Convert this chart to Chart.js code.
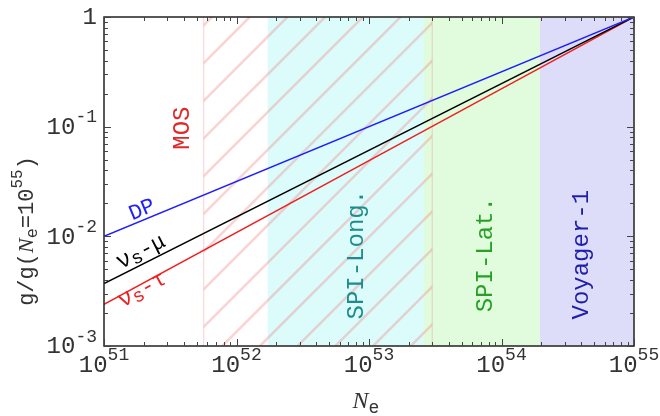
<!DOCTYPE html>
<html>
<head>
<meta charset="utf-8">
<script src="https://cdn.jsdelivr.net/npm/chart.js@4"></script>
<style>
  body { margin: 0; background: #fff; }
  #wrap { width: 660px; height: 416px; }
</style>
</head>
<body>
<div id="wrap"><canvas id="chart" width="660" height="416"></canvas></div>
<script>
// Coupling ratio g/g(Ne=1e55) vs number of electrons, log-log
const nEnds = [1e51, 1e55];
const dpVals = [0.01, 1];
const muVals = [0.0037, 1];
const tauVals = [0.0024, 1];

// Shaded exclusion regions (x ranges)
const regionNames = ['SPI-Long.', 'SPI-Lat.', 'Voyager-1'];
const regionStart = [1.72e52, 2.6e53, 1.95e54];
const regionEnd = [2.6e53, 1.95e54, 1e55];
const regionFill = ['rgb(220,252,252)', 'rgb(224,252,220)', 'rgb(221,221,250)'];
const regionText = ['rgb(30,140,140)', 'rgb(40,160,40)', 'rgb(30,30,170)'];
const regionLabelX = [8.0e52, 7.6e53, 4.06e54];

// hatched MOS region
const mosRange = [5.66e51, 3.0e53];

const xTickExp = [51, 52, 53, 54, 55];
const yTickExp = [-3, -2, -1, 0];

const MONO = '"Liberation Mono", "DejaVu Sans Mono", monospace';

function toPts(xs, ys) {
    return xs.map((x, i) => ({ x: x, y: ys[i] }));
}

// draws a list of text pieces [{t, size, dy, font}] centred at 0,0 (after transform)
function richText(ctx, pieces, color) {
    let total = 0;
    pieces.forEach(p => {
        ctx.font = (p.font || (p.size + 'px ' + MONO));
        p.w = ctx.measureText(p.t).width;
        total += p.w;
    });
    let x = -total / 2;
    ctx.fillStyle = color;
    ctx.textBaseline = 'middle';
    ctx.textAlign = 'left';
    pieces.forEach(p => {
        ctx.font = (p.font || (p.size + 'px ' + MONO));
        ctx.fillText(p.t, x, p.dy || 0);
        x += p.w;
    });
}

const backdrop = {
    id: 'backdrop',
    beforeDatasetsDraw(chart) {
        const { ctx, chartArea: a, scales: { x, y } } = chart;
        ctx.save();
        ctx.beginPath();
        ctx.rect(a.left, a.top, a.right - a.left, a.bottom - a.top);
        ctx.clip();
        regionStart.forEach((s, i) => {
            const x0 = x.getPixelForValue(s);
            const x1 = x.getPixelForValue(regionEnd[i]);
            ctx.fillStyle = regionFill[i];
            ctx.fillRect(x0, a.top, x1 - x0, a.bottom - a.top);
        });
        // MOS hatch
        const m0 = x.getPixelForValue(mosRange[0]);
        const m1 = x.getPixelForValue(mosRange[1]);
        ctx.save();
        ctx.beginPath();
        ctx.rect(m0, a.top, m1 - m0, a.bottom - a.top);
        ctx.clip();
        ctx.strokeStyle = 'rgba(240,130,130,0.35)';
        ctx.lineWidth = 2.5;
        const h = a.bottom - a.top;
        for (let xt = 212 - 37.7 * 12; xt < m1 + h; xt += 37.7) {
            ctx.beginPath();
            ctx.moveTo(xt, a.top);
            ctx.lineTo(xt - h, a.bottom);
            ctx.stroke();
        }
        ctx.restore();
        ctx.strokeStyle = 'rgba(240,150,150,0.45)';
        ctx.lineWidth = 1;
        [m0, m1].forEach(px => {
            ctx.beginPath();
            ctx.moveTo(px, a.top);
            ctx.lineTo(px, a.bottom);
            ctx.stroke();
        });
        ctx.restore();
    },
    afterDatasetsDraw(chart) {
        const { ctx, chartArea: a, scales: { x, y } } = chart;
        ctx.save();
        // region labels, vertical
        regionNames.forEach((nm, i) => {
            ctx.save();
            ctx.translate(x.getPixelForValue(regionLabelX[i]), y.getPixelForValue(0.0068));
            ctx.rotate(-Math.PI / 2);
            richText(ctx, [{ t: nm, size: 24 }], regionText[i]);
            ctx.restore();
        });
        ctx.save();
        ctx.translate(x.getPixelForValue(3.94e51), y.getPixelForValue(0.097));
        ctx.rotate(-Math.PI / 2);
        richText(ctx, [{ t: 'MOS', size: 24 }], 'rgb(225,40,40)');
        ctx.restore();

        // line labels
        const lineLabels = [
            { x: 1.94e51, y: 0.0174, ang: 22.5, color: 'rgb(30,30,255)', p: [{ t: 'DP', size: 22 }] },
            { x: 1.9e51, y: 0.0072, ang: 26.8, color: '#000', p: [{ t: 'ν', size: 24 }, { t: 's', size: 19, dy: 4 }, { t: '-μ', size: 22 }] },
            { x: 1.94e51, y: 0.00325, ang: 28.5, color: 'rgb(240,30,30)', p: [{ t: 'ν', size: 24 }, { t: 's', size: 19, dy: 4 }, { t: '-τ', size: 22 }] }
        ];
        lineLabels.forEach(l => {
            ctx.save();
            ctx.translate(x.getPixelForValue(l.x), y.getPixelForValue(l.y));
            ctx.rotate(-l.ang * Math.PI / 180);
            richText(ctx, l.p, l.color);
            ctx.restore();
        });

        // frame
        ctx.strokeStyle = '#222';
        ctx.lineWidth = 1.5;
        ctx.strokeRect(a.left, a.top, a.right - a.left, a.bottom - a.top);

        // ticks (inward, on all sides)
        ctx.strokeStyle = '#444';
        ctx.lineWidth = 1;
        for (let e = xTickExp[0]; e < xTickExp[xTickExp.length - 1] + 1; e++) {
            for (let m = 1; m < 10; m++) {
                const v = m * Math.pow(10, e);
                if (v > 1e55 * 1.0001) break;
                const px = Math.round(x.getPixelForValue(v)) + 0.5;
                const len = m === 1 ? 7 : 4;
                ctx.beginPath();
                ctx.moveTo(px, a.bottom); ctx.lineTo(px, a.bottom - len);
                ctx.moveTo(px, a.top); ctx.lineTo(px, a.top + len);
                ctx.stroke();
            }
        }
        for (let e = yTickExp[0]; e <= 0; e++) {
            for (let m = 1; m < 10; m++) {
                const v = m * Math.pow(10, e);
                if (v > 1.0001) break;
                const py = Math.round(y.getPixelForValue(v)) + 0.5;
                const len = m === 1 ? 7 : 4;
                ctx.beginPath();
                ctx.moveTo(a.left, py); ctx.lineTo(a.left + len, py);
                ctx.moveTo(a.right, py); ctx.lineTo(a.right - len, py);
                ctx.stroke();
            }
        }

        // tick labels
        const lblColor = '#333';
        xTickExp.forEach(e => {
            ctx.save();
            ctx.translate(x.getPixelForValue(Math.pow(10, e)), 366);
            richText(ctx, [{ t: '10', size: 24 }, { t: String(e), size: 18, dy: -11 }], lblColor);
            ctx.restore();
        });
        yTickExp.forEach(e => {
            const py = y.getPixelForValue(Math.pow(10, e));
            ctx.save();
            ctx.textBaseline = 'middle';
            ctx.fillStyle = lblColor;
            if (e === 0) {
                ctx.font = '24px ' + MONO;
                ctx.textAlign = 'right';
                ctx.fillText('1', 97, py + 1);
            } else {
                ctx.font = '18px ' + MONO;
                const ew = ctx.measureText(String(e)).width;
                ctx.textAlign = 'right';
                ctx.fillText(String(e), 97, py - 9);
                ctx.font = '24px ' + MONO;
                ctx.fillText('10', 97 - ew, py + 1);
            }
            ctx.restore();
        });

        // axis titles
        ctx.save();
        ctx.translate(366, 402);
        richText(ctx, [
            { t: 'N', font: 'italic 24px "Liberation Serif", serif' },
            { t: 'e', size: 18, dy: 6 }
        ], '#333');
        ctx.restore();

        ctx.save();
        ctx.translate(27, 231);
        ctx.rotate(-Math.PI / 2);
        richText(ctx, [
            { t: 'g/g(', size: 22 },
            { t: 'N', font: 'italic 22px "Liberation Serif", serif' },
            { t: 'e', size: 17, dy: 5 },
            { t: '=10', size: 22 },
            { t: '55', size: 16, dy: -9 },
            { t: ')', size: 22 }
        ], '#333');
        ctx.restore();

        ctx.restore();
    }
};

const config = {
    type: 'line',
    data: {
        datasets: [
            { label: 'DP', data: toPts(nEnds, dpVals), borderColor: 'rgb(30,30,255)' },
            { label: 'nu_s-mu', data: toPts(nEnds, muVals), borderColor: '#000' },
            { label: 'nu_s-tau', data: toPts(nEnds, tauVals), borderColor: 'rgb(240,30,30)' }
        ].map(d => Object.assign(d, { borderWidth: 1.5, pointRadius: 0, fill: false, tension: 0 }))
    },
    options: {
        responsive: false,
        animation: false,
        layout: { padding: { left: 104, top: 17, right: 26, bottom: 70 } },
        plugins: { legend: { display: false }, tooltip: { enabled: false } },
        scales: {
            x: { type: 'logarithmic', min: 1e51, max: 1e55, display: false },
            y: { type: 'logarithmic', min: 1e-3, max: 1, display: false }
        }
    },
    plugins: [backdrop]
};

document.addEventListener('DOMContentLoaded', function () {
    new Chart(document.getElementById('chart').getContext('2d'), config);
});
</script>
</body>
</html>
